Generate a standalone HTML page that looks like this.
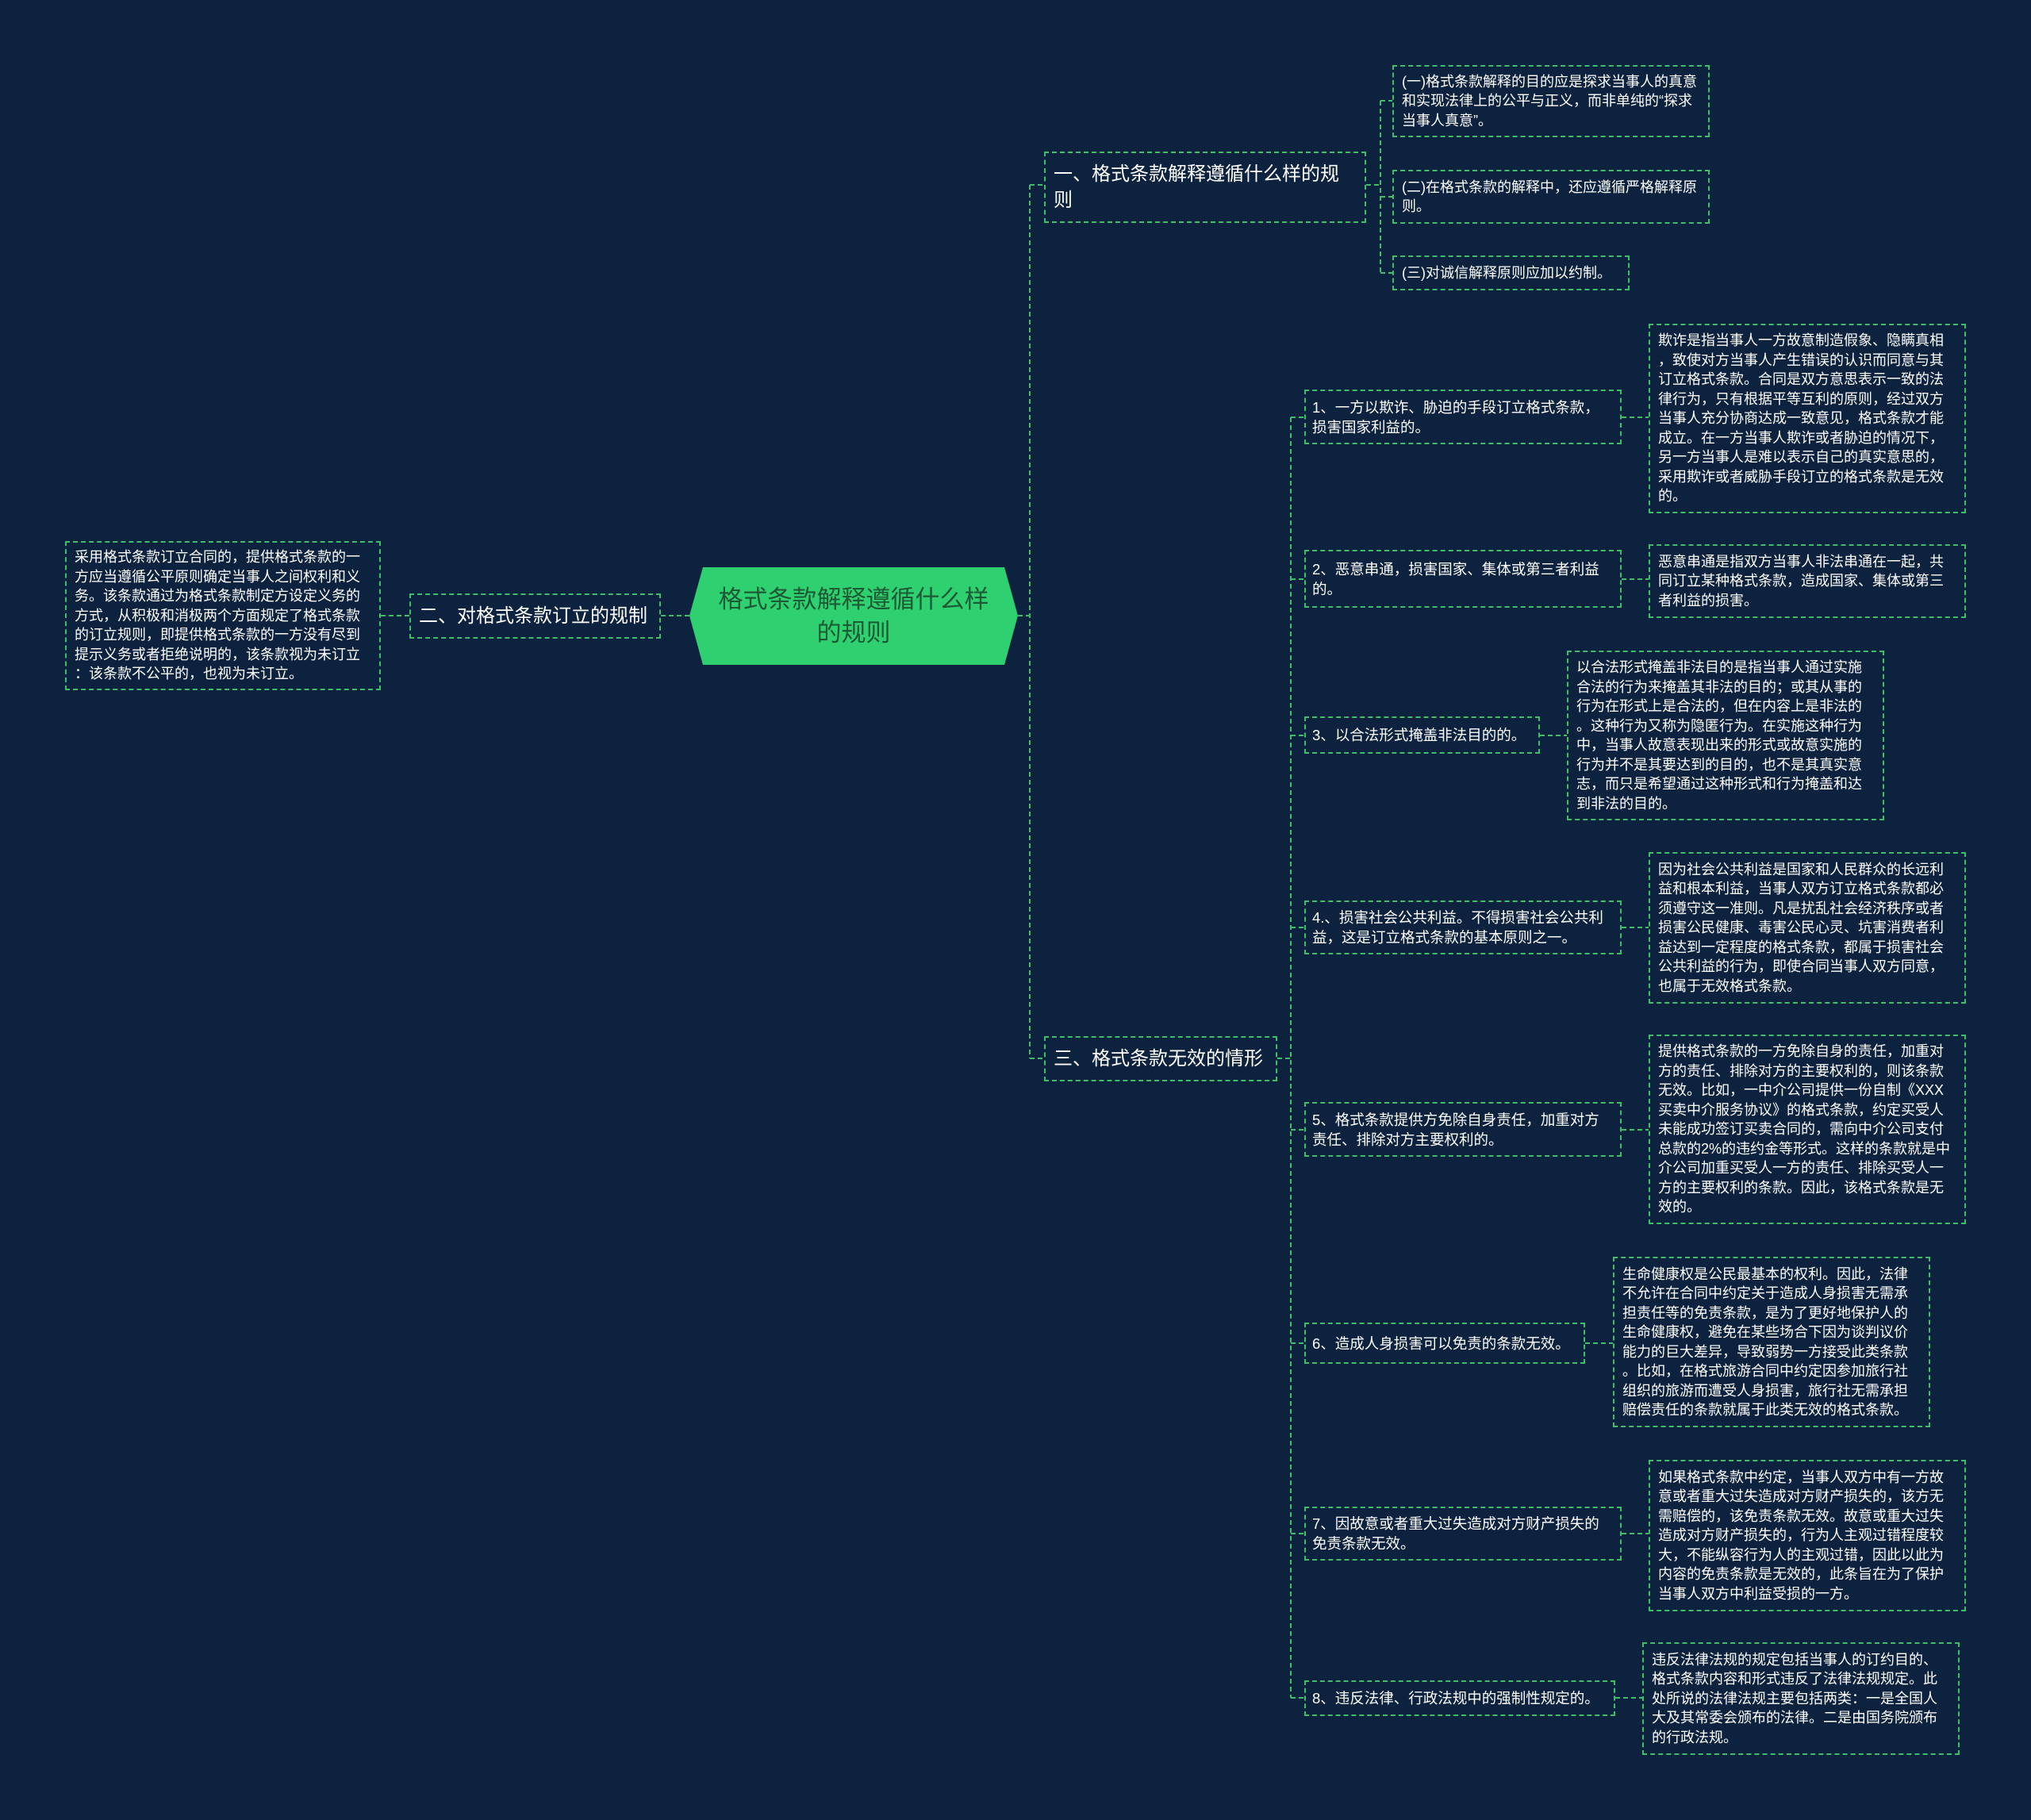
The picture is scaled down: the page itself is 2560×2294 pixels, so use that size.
<!DOCTYPE html>
<html><head><meta charset="utf-8"><style>
body{margin:0;width:2560px;height:2294px;background:#0d223f;position:relative;overflow:hidden;font-family:"Liberation Sans","Noto Sans CJK SC",sans-serif;color:#fff}
.b{position:absolute;box-sizing:border-box;border:2px dashed #3dbf6a;display:flex;align-items:center;padding:6px 10px;font-size:18px;line-height:24.5px;word-break:break-all;line-break:anywhere}
.m{font-size:18.5px;line-height:25px;padding:6px 8px}
.n{white-space:nowrap}
.l{font-size:24px;line-height:33px}
svg{position:absolute;left:0;top:0}
</style></head><body>
<svg width="2560" height="2294"><g stroke="#3dbf6a" stroke-width="2" stroke-dasharray="6,4" fill="none">
<path d="M1283 776H1298M1298 233V1334M1298 233H1316M1298 1334H1316"/>
<path d="M869 776H833M516 776H480"/>
<path d="M1722 233H1740M1740 127V344M1740 127H1755M1740 248H1755M1740 344H1755"/>
<path d="M1610 1334H1627M1627 526V2140"/>
<path d="M1627 526H1644M1627 730H1644M1627 927H1644M1627 1169H1644M1627 1424H1644M1627 1693H1644M1627 1933H1644M1627 2140H1644"/>
<path d="M2044 526H2078M2044 730H2078M1941 927H1975M2044 1169H2078M2044 1424H2078M1998 1693H2033M2044 1933H2078M2036 2140H2070"/>
</g></svg>
<svg width="2560" height="2294"><polygon points="886,715 1266,715 1283,776 1266,838 886,838 869,776" fill="#2fd06f"/></svg>
<div class="b" style="left:869px;top:715px;width:414px;height:123px;border:none;justify-content:center;text-align:center;font-size:31px;line-height:42px;color:#1c5a35;padding:0 30px">格式条款解释遵循什么样的规则</div>
<div class="b l" style="left:516px;top:748px;width:317px;height:57px">二、对格式条款订立的规制</div>
<div class="b" style="left:82px;top:682px;width:398px;height:188px">采用格式条款订立合同的，提供格式条款的一方应当遵循公平原则确定当事人之间权利和义务。该条款通过为格式条款制定方设定义务的方式，从积极和消极两个方面规定了格式条款的订立规则，即提供格式条款的一方没有尽到提示义务或者拒绝说明的，该条款视为未订立：该条款不公平的，也视为未订立。</div>
<div class="b l" style="left:1316px;top:191px;width:406px;height:90px">一、格式条款解释遵循什么样的规则</div>
<div class="b l" style="left:1316px;top:1306px;width:294px;height:57px">三、格式条款无效的情形</div>
<div class="b" style="left:1755px;top:82px;width:400px;height:91px">(一)格式条款解释的目的应是探求当事人的真意和实现法律上的公平与正义，而非单纯的“探求当事人真意”。</div>
<div class="b" style="left:1755px;top:214px;width:400px;height:68px">(二)在格式条款的解释中，还应遵循严格解释原则。</div>
<div class="b n" style="left:1755px;top:322px;width:299px;height:44px">(三)对诚信解释原则应加以约制。</div>
<div class="b m" style="left:1644px;top:491px;width:400px;height:69px">1、一方以欺诈、胁迫的手段订立格式条款，损害国家利益的。</div>
<div class="b" style="left:2078px;top:408px;width:400px;height:239px">欺诈是指当事人一方故意制造假象、隐瞒真相，致使对方当事人产生错误的认识而同意与其订立格式条款。合同是双方意思表示一致的法律行为，只有根据平等互利的原则，经过双方当事人充分协商达成一致意见，格式条款才能成立。在一方当事人欺诈或者胁迫的情况下，另一方当事人是难以表示自己的真实意思的，采用欺诈或者威胁手段订立的格式条款是无效的。</div>
<div class="b m" style="left:1644px;top:693px;width:400px;height:73px">2、恶意串通，损害国家、集体或第三者利益的。</div>
<div class="b" style="left:2078px;top:686px;width:400px;height:93px">恶意串通是指双方当事人非法串通在一起，共同订立某种格式条款，造成国家、集体或第三者利益的损害。</div>
<div class="b m n" style="left:1644px;top:903px;width:297px;height:47px">3、以合法形式掩盖非法目的的。</div>
<div class="b" style="left:1975px;top:820px;width:400px;height:214px">以合法形式掩盖非法目的是指当事人通过实施合法的行为来掩盖其非法的目的；或其从事的行为在形式上是合法的，但在内容上是非法的。这种行为又称为隐匿行为。在实施这种行为中，当事人故意表现出来的形式或故意实施的行为并不是其要达到的目的，也不是其真实意志，而只是希望通过这种形式和行为掩盖和达到非法的目的。</div>
<div class="b m" style="left:1644px;top:1135px;width:400px;height:68px">4.、损害社会公共利益。不得损害社会公共利益，这是订立格式条款的基本原则之一。</div>
<div class="b" style="left:2078px;top:1074px;width:400px;height:191px">因为社会公共利益是国家和人民群众的长远利益和根本利益，当事人双方订立格式条款都必须遵守这一准则。凡是扰乱社会经济秩序或者损害公民健康、毒害公民心灵、坑害消费者利益达到一定程度的格式条款，都属于损害社会公共利益的行为，即使合同当事人双方同意，也属于无效格式条款。</div>
<div class="b m" style="left:1644px;top:1389px;width:400px;height:69px">5、格式条款提供方免除自身责任，加重对方责任、排除对方主要权利的。</div>
<div class="b" style="left:2078px;top:1304px;width:400px;height:239px">提供格式条款的一方免除自身的责任，加重对方的责任、排除对方的主要权利的，则该条款无效。比如，一中介公司提供一份自制《XXX买卖中介服务协议》的格式条款，约定买受人未能成功签订买卖合同的，需向中介公司支付总款的2%的违约金等形式。这样的条款就是中介公司加重买受人一方的责任、排除买受人一方的主要权利的条款。因此，该格式条款是无效的。</div>
<div class="b m n" style="left:1644px;top:1667px;width:354px;height:52px">6、造成人身损害可以免责的条款无效。</div>
<div class="b" style="left:2033px;top:1584px;width:400px;height:215px">生命健康权是公民最基本的权利。因此，法律不允许在合同中约定关于造成人身损害无需承担责任等的免责条款，是为了更好地保护人的生命健康权，避免在某些场合下因为谈判议价能力的巨大差异，导致弱势一方接受此类条款。比如，在格式旅游合同中约定因参加旅行社组织的旅游而遭受人身损害，旅行社无需承担赔偿责任的条款就属于此类无效的格式条款。</div>
<div class="b m" style="left:1644px;top:1899px;width:400px;height:68px">7、因故意或者重大过失造成对方财产损失的免责条款无效。</div>
<div class="b" style="left:2078px;top:1840px;width:400px;height:191px">如果格式条款中约定，当事人双方中有一方故意或者重大过失造成对方财产损失的，该方无需赔偿的，该免责条款无效。故意或重大过失造成对方财产损失的，行为人主观过错程度较大，不能纵容行为人的主观过错，因此以此为内容的免责条款是无效的，此条旨在为了保护当事人双方中利益受损的一方。</div>
<div class="b m n" style="left:1644px;top:2118px;width:392px;height:45px">8、违反法律、行政法规中的强制性规定的。</div>
<div class="b" style="left:2070px;top:2070px;width:400px;height:142px">违反法律法规的规定包括当事人的订约目的、格式条款内容和形式违反了法律法规规定。此处所说的法律法规主要包括两类：一是全国人大及其常委会颁布的法律。二是由国务院颁布的行政法规。</div>
</body></html>
